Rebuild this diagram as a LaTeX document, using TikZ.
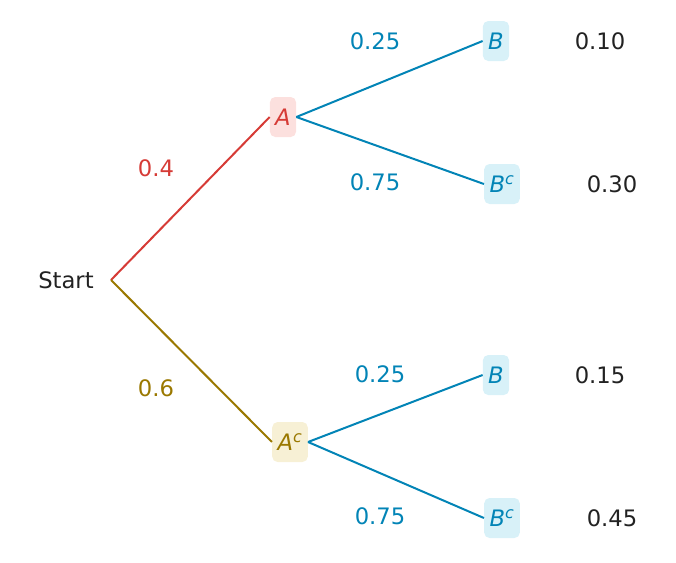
\documentclass[tikz,border=0pt]{standalone}
\usepackage{fontspec}
\setmainfont{DejaVu Sans}
\usetikzlibrary{positioning}
\definecolor{redA}{HTML}{D63B36}
\definecolor{redfill}{HTML}{FCE0DE}
\definecolor{oliveA}{HTML}{9A7800}
\definecolor{olivefill}{HTML}{F7F0D5}
\definecolor{blueB}{HTML}{0284B6}
\definecolor{bluefill}{HTML}{D8F1F8}
\definecolor{ink}{HTML}{222222}
\begin{document}
\begin{tikzpicture}[
  x=0.75pt, y=-0.75pt,
  every node/.style={font=\fontsize{17}{20}\selectfont},
  event/.style={rectangle, rounded corners=4pt, inner sep=4pt, minimum height=30pt},
  prob/.style={text=#1},
  branch/.style={draw=#1, line width=1.5pt}
]
\useasboundingbox (0,0) rectangle (676,562);

\node[text=ink] (start) at (66,280) {Start};
\coordinate (root) at (111,280);
\node[event, fill=redfill, text=redA] (a) at (283,117) {\textit{A}};
\node[event, fill=olivefill, text=oliveA] (ac) at (290,442) {\textit{A}\textsuperscript{\textit{c}}};
\node[event, fill=bluefill, text=blueB] (ab) at (496,41) {\textit{B}};
\node[event, fill=bluefill, text=blueB] (abc) at (502,184) {\textit{B}\textsuperscript{\textit{c}}};
\node[event, fill=bluefill, text=blueB] (acb) at (496,375) {\textit{B}};
\node[event, fill=bluefill, text=blueB] (acbc) at (502,518) {\textit{B}\textsuperscript{\textit{c}}};

% branches
\draw[branch=redA] (root) -- (a.west);
\draw[branch=oliveA] (root) -- (ac.west);
\draw[branch=blueB] (a.east) -- (ab.west);
\draw[branch=blueB] (a.east) -- (abc.west);
\draw[branch=blueB] (ac.east) -- (acb.west);
\draw[branch=blueB] (ac.east) -- (acbc.west);

% branch probabilities
\node[prob=redA] at (156,168) {0.4};
\node[prob=oliveA] at (156,388) {0.6};
\node[prob=blueB] at (375,41) {0.25};
\node[prob=blueB] at (375,182) {0.75};
\node[prob=blueB] at (380,374) {0.25};
\node[prob=blueB] at (380,516) {0.75};

% joint probabilities
\node[prob=ink] at (600,41) {0.10};
\node[prob=ink] at (612,184) {0.30};
\node[prob=ink] at (600,375) {0.15};
\node[prob=ink] at (612,518) {0.45};
\end{tikzpicture}
\end{document}
